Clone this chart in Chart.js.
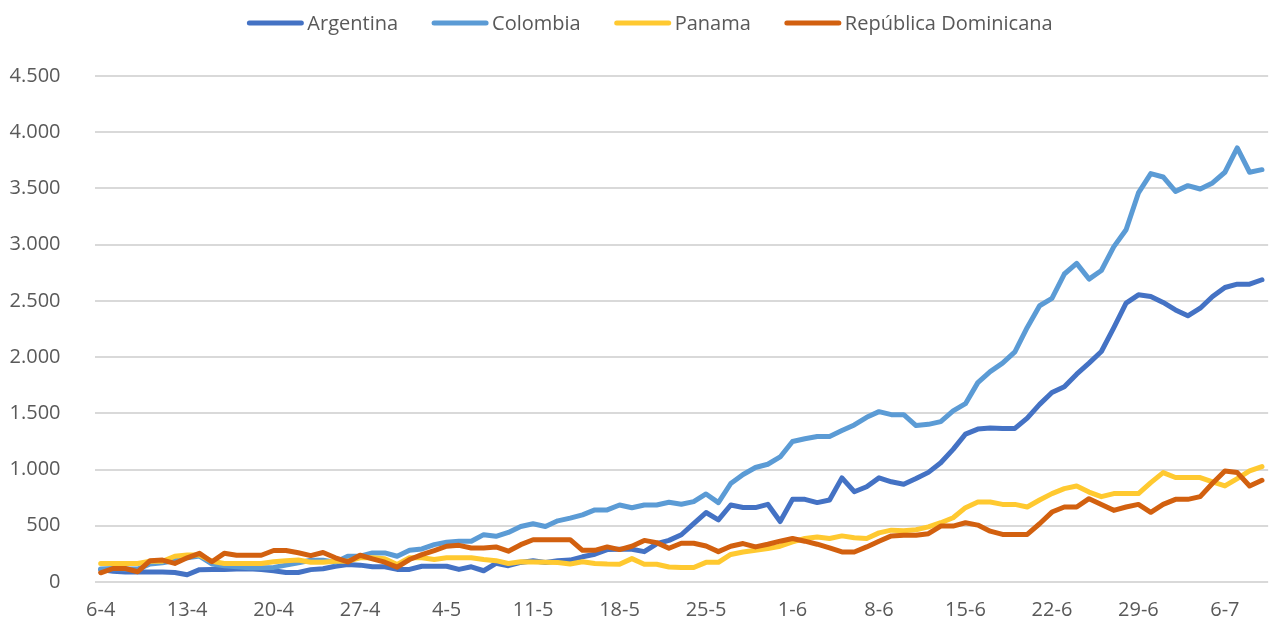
<!DOCTYPE html>
<html>
<head>
<meta charset="utf-8">
<script src="https://cdn.jsdelivr.net/npm/chart.js@4.4.1/dist/chart.umd.min.js"></script>
<style>
  html, body { margin: 0; padding: 0; background: #fff; }
  #wrap { width: 1278px; height: 628px; position: relative; }
</style>
</head>
<body>
<div id="wrap"><canvas id="chart"></canvas></div>
<script>
var days = [
  '6-4','7-4','8-4','9-4','10-4','11-4','12-4','13-4','14-4','15-4','16-4','17-4','18-4','19-4','20-4',
  '21-4','22-4','23-4','24-4','25-4','26-4','27-4','28-4','29-4','30-4',
  '1-5','2-5','3-5','4-5','5-5','6-5','7-5','8-5','9-5','10-5','11-5','12-5','13-5','14-5','15-5','16-5',
  '17-5','18-5','19-5','20-5','21-5','22-5','23-5','24-5','25-5','26-5','27-5','28-5','29-5','30-5','31-5',
  '1-6','2-6','3-6','4-6','5-6','6-6','7-6','8-6','9-6','10-6','11-6','12-6','13-6','14-6','15-6',
  '16-6','17-6','18-6','19-6','20-6','21-6','22-6','23-6','24-6','25-6','26-6','27-6','28-6','29-6','30-6',
  '1-7','2-7','3-7','4-7','5-7','6-7','7-7','8-7','9-7'
];

var argentina = [
  110, 95, 90, 90, 90, 90, 85, 65, 110, 112, 112, 115, 118, 110, 100, 85, 85, 110, 118, 140, 155, 150,
  135, 135, 112, 112, 140, 140, 140, 112, 135, 100, 166,
  145, 174, 189, 174, 189, 195, 224, 247, 288, 291, 291, 270, 340, 370, 420, 520,
  618, 553, 685, 662, 662, 691, 538, 735, 735, 706, 729, 926, 803, 847, 926, 891, 870, 920,
  975, 1060, 1180, 1315, 1360, 1370, 1366, 1366, 1458, 1580, 1685, 1737, 1848, 1946, 2050,
  2260, 2480, 2554, 2539, 2486, 2420, 2367, 2435, 2539, 2619, 2649, 2649, 2688
];

var colombia = [
  115, 120, 115, 115, 160, 170, 190, 215, 230, 160, 145, 135, 126, 126, 130, 150, 170,
  194, 194, 176, 229, 229, 259, 259, 229, 282, 294, 332, 353, 362, 362,
  421, 406, 441, 494, 518, 494, 544, 568, 597, 641, 641, 685, 660, 685, 685, 709, 691, 715,
  783, 706, 876, 956, 1018, 1047, 1112, 1250, 1274, 1294, 1294, 1347, 1397, 1465, 1515, 1488, 1488, 1391,
  1402, 1426, 1521, 1586, 1773, 1871, 1946, 2047, 2264, 2457, 2522, 2739, 2834, 2694, 2770,
  2980, 3133, 3460, 3632, 3602, 3474, 3525, 3495, 3549, 3644, 3860, 3644, 3667
];

var panama = [
  165, 165, 165, 165, 185, 185, 229, 240, 240, 185, 165, 165, 165, 165, 180, 190, 195,
  176, 176, 185, 185, 215, 215, 206, 156, 215, 215, 200, 215, 215, 215,
  200, 190, 165, 180, 178, 175, 174, 160, 180, 165, 160, 158, 208, 158, 158, 133, 130, 129,
  175, 175, 245, 267, 282, 297, 318, 357, 387, 401, 387, 410, 393, 387, 437, 461, 455, 465, 490,
  527, 571, 661, 711, 711, 690, 690, 667, 729, 786, 830, 854, 800, 759, 786, 786, 786, 884, 973,
  929, 929, 929, 890, 854, 920, 988, 1027
];

var dominicana = [
  82, 120, 120, 91, 190, 195, 165, 215, 255, 180, 255, 238, 238, 238, 280, 280, 260,
  235, 262, 215, 178, 238, 206, 176, 132, 200, 244, 279, 318, 326, 303,
  303, 312, 274, 332, 376, 376, 376, 376, 282, 282, 312, 288, 318, 370, 350, 300, 345, 345,
  320, 270, 318, 342, 312, 336, 363, 387, 363, 336, 303, 267, 267, 312, 363, 410, 416, 416, 430,
  497, 497, 527, 506, 452, 423, 423, 423, 518, 622, 667, 667, 741, 690, 637, 667, 690, 620, 690,
  735, 735, 759, 878, 988, 973, 854, 905
];

var yTicks = [0, 500, 1000, 1500, 2000, 2500, 3000, 3500, 4000, 4500];

var textColor = '#595959';
var fontFamily = '"Open Sans", "Noto Sans", sans-serif';

function thousands(v) {
  return String(v).replace(/\B(?=(\d{3})+(?!\d))/g, '.');
}

function series(label, data, color, order) {
  return {
    label: label,
    data: data,
    borderColor: color,
    backgroundColor: color,
    borderWidth: 5,
    borderJoinStyle: 'round',
    borderCapStyle: 'round',
    pointRadius: 0,
    pointHoverRadius: 0,
    tension: 0,
    order: order
  };
}

// legend drawn by hand: line sample, small gap, text, like the Excel one
var lineLegend = {
  id: 'lineLegend',
  afterDraw: function(chart) {
    var ctx = chart.ctx;
    var sets = chart.data.datasets;
    var lineLen = 56, gap = 4, itemGap = 34;
    ctx.save();
    ctx.font = '20px ' + fontFamily;
    var widths = sets.map(function(d) {
      return lineLen + gap + ctx.measureText(d.label).width;
    });
    var total = widths.reduce(function(a, b) { return a + b; }, 0) + itemGap * (sets.length - 1);
    var x = 650 - total / 2;
    var y = 23;
    sets.forEach(function(d, i) {
      ctx.strokeStyle = d.borderColor;
      ctx.lineWidth = 5;
      ctx.lineCap = 'round';
      ctx.beginPath();
      ctx.moveTo(x + 2, y);
      ctx.lineTo(x + lineLen - 2, y);
      ctx.stroke();
      ctx.fillStyle = textColor;
      ctx.textBaseline = 'middle';
      ctx.textAlign = 'left';
      ctx.fillText(d.label, x + lineLen + gap, y + 1);
      x += widths[i] + itemGap;
    });
    ctx.restore();
  }
};

var chart = new Chart(document.getElementById('chart'), {
  type: 'line',
  data: {
    labels: days,
    datasets: [
      series('Argentina', argentina, '#4472C4', 4),
      series('Colombia', colombia, '#5B9BD5', 3),
      series('Panama', panama, '#FFC930', 2),
      series('República Dominicana', dominicana, '#D2600F', 1)
    ]
  },
  options: {
    responsive: true,
    maintainAspectRatio: false,
    animation: false,
    layout: { padding: { top: 76, right: 6, bottom: 0, left: 0 } },
    plugins: {
      legend: { display: false },
      tooltip: { enabled: false }
    },
    scales: {
      x: {
        offset: true,
        grid: { display: false, drawTicks: false },
        border: { display: false },
        ticks: {
          autoSkip: false,
          maxRotation: 0,
          minRotation: 0,
          padding: 16,
          color: textColor,
          font: { family: fontFamily, size: 20 },
          callback: function(val, idx) {
            return idx % 7 === 0 ? this.getLabelForValue(val) : '';
          }
        },
        afterFit: function(s) { s.height = 42; }
      },
      y: {
        min: 0,
        max: 4500,
        grid: { color: '#d9d9d9', lineWidth: 2, drawTicks: false },
        border: { display: false },
        afterBuildTicks: function(s) {
          s.ticks = yTicks.map(function(v) { return { value: v }; });
        },
        ticks: {
          padding: 34,
          color: textColor,
          font: { family: fontFamily, size: 20 },
          callback: function(v) { return thousands(v); }
        },
        afterFit: function(s) { s.width = 94.5; }
      }
    }
  },
  plugins: [lineLegend]
});
</script>
</body>
</html>
